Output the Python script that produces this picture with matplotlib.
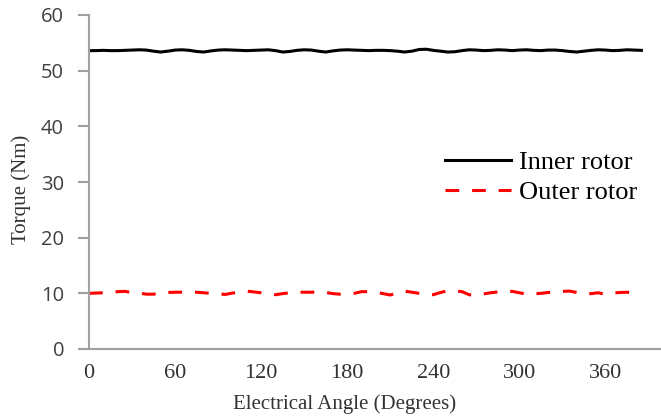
import numpy as np
import matplotlib.pyplot as plt

# 数据：电角度 (度) 与转矩 (Nm)
angle = np.arange(0, 390, 5)
inner = [53.6, 53.6, 53.65, 53.6, 53.6, 53.65, 53.7, 53.75, 53.7, 53.5,
         53.35, 53.5, 53.7, 53.75, 53.65, 53.45, 53.35, 53.55, 53.7, 53.75,
         53.7, 53.65, 53.6, 53.65, 53.7, 53.75, 53.6, 53.35, 53.45, 53.65,
         53.75, 53.7, 53.5, 53.35, 53.55, 53.7, 53.75, 53.7, 53.65, 53.6,
         53.65, 53.65, 53.6, 53.5, 53.35, 53.5, 53.8, 53.85, 53.65, 53.5,
         53.35, 53.4, 53.6, 53.75, 53.7, 53.6, 53.65, 53.75, 53.7, 53.6,
         53.7, 53.75, 53.65, 53.6, 53.7, 53.7, 53.6, 53.45, 53.35, 53.5,
         53.65, 53.75, 53.7, 53.6, 53.65, 53.75, 53.7, 53.65]
outer = [10.0, 10.05, 10.1, 10.15, 10.3, 10.35, 10.15, 10.05, 9.85, 9.85,
         10.0, 10.15, 10.2, 10.2, 10.2, 10.2, 10.1, 10.0, 9.9, 9.8,
         10.05, 10.2, 10.4, 10.25, 10.1, 10.0, 9.75, 9.95, 10.1, 10.2,
         10.2, 10.2, 10.2, 10.15, 9.95, 9.85, 9.85, 10.0, 10.3, 10.3,
         10.2, 9.95, 9.7, 10.1, 10.4, 10.2, 10.0, 9.85, 9.75, 10.15,
         10.45, 10.45, 10.3, 9.75, 9.6, 9.9, 10.1, 10.25, 10.3, 10.35,
         10.1, 9.85, 9.9, 10.0, 10.15, 10.3, 10.35, 10.4, 10.15, 9.85,
         9.95, 10.1, 9.8, 10.05, 10.15, 10.2, 10.0, 9.8]
xticks = [0, 60, 120, 180, 240, 300, 360]
yticks = [0, 10, 20, 30, 40, 50, 60]

serif = 'Liberation Serif'
fig = plt.figure(figsize=(6.61, 4.18), dpi=100)
ax = fig.add_axes([89 / 661, 69 / 418, (660 - 89) / 661, (349 - 15) / 418])

ax.plot(angle, inner, color='black', lw=2.2, label='Inner rotor')
ax.plot(angle, outer, color='#ff0000', lw=2.2, dashes=(4.5, 4.2),
        label='Outer rotor')

ax.set_xlim(0, 398)
ax.set_ylim(0, 60)
ax.set_xticks(xticks)
ax.set_yticks(yticks)
ax.set_xticks([0], minor=True)
ax.tick_params(axis='x', which='major', length=0, pad=11,
               labelsize=16, labelcolor='#333333')
ax.tick_params(axis='x', which='minor', length=8, width=1.5, color='#a0a0a0')
ax.tick_params(axis='y', length=8, width=1.5, color='#a0a0a0', pad=10,
               labelsize=14.5, labelcolor='#404040')
for lab in ax.get_xticklabels():
    lab.set_family(serif)
for lab in ax.get_yticklabels():
    lab.set_family('Open Sans')

for s in ['top', 'right']:
    ax.spines[s].set_visible(False)
for s in ['left', 'bottom']:
    ax.spines[s].set_color('#a0a0a0')
    ax.spines[s].set_linewidth(1.5)

ax.set_xlabel('Electrical Angle (Degrees)', family=serif, fontsize=15,
              color='#333333')
ax.set_ylabel('Torque (Nm)', family=serif, fontsize=15, color='#333333')
ax.xaxis.set_label_coords(0.448, -0.135)
ax.yaxis.set_label_coords(-0.102, 0.477)

ax.legend(loc='upper left', bbox_to_anchor=(0.605, 0.625), frameon=False,
          prop={'family': serif, 'size': 19}, handlelength=2.5,
          handletextpad=0.3, labelspacing=0.25, borderaxespad=0)

plt.savefig('out.png', dpi=100)
